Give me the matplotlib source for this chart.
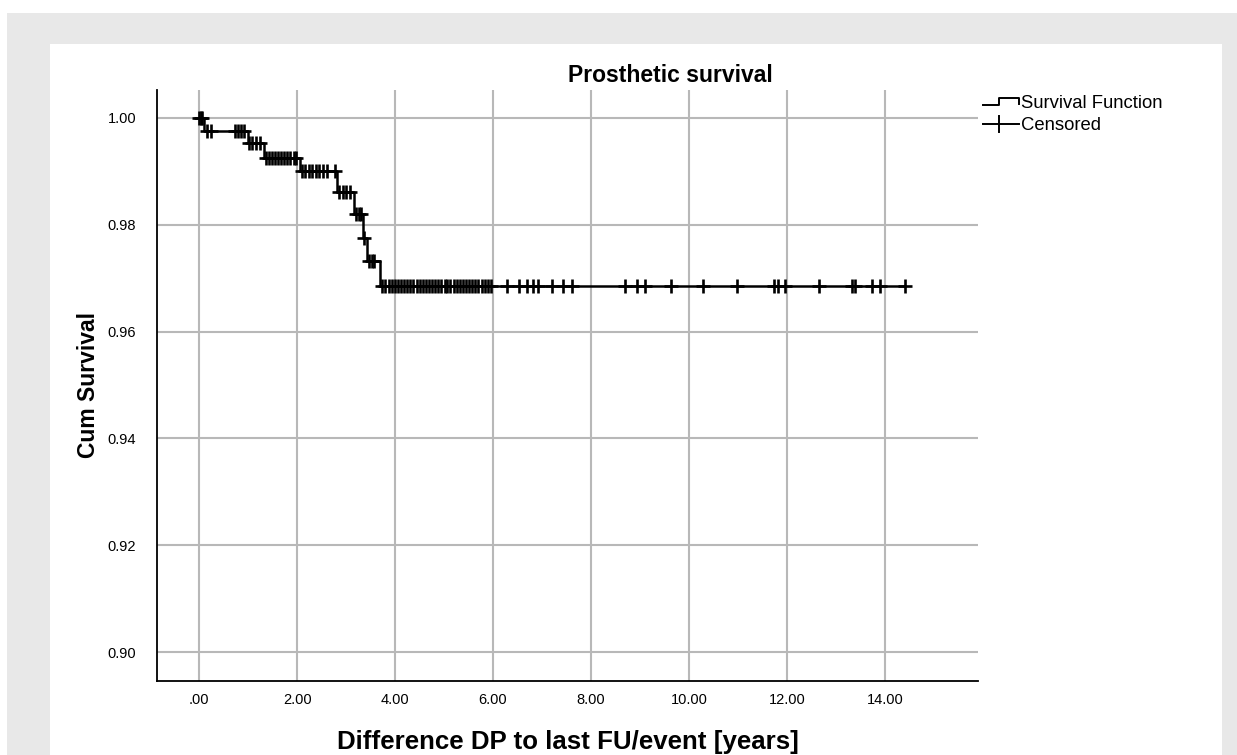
import numpy as np
import matplotlib.pyplot as plt
from matplotlib.lines import Line2D
from matplotlib.patches import Rectangle

plt.rcParams['font.family'] = ['Liberation Sans', 'DejaVu Sans']

# event times (years) and cumulative survival after each event
event_times = [0.10, 1.00, 1.33, 2.06, 2.82, 3.16, 3.34, 3.42, 3.69]
event_surv = [0.9976, 0.9953, 0.9926, 0.9900, 0.9861, 0.9820, 0.9775, 0.9732, 0.9685]

# censored observations
censored_times = [
    0.00, 0.03, 0.05,
    0.16, 0.24, 0.73, 0.80, 0.86, 0.92,
    1.02, 1.08, 1.16, 1.24,
    1.37, 1.43, 1.49, 1.55, 1.61, 1.67, 1.73, 1.79, 1.86, 1.93, 1.98,
    2.10, 2.17, 2.24, 2.31, 2.38, 2.45, 2.52, 2.62, 2.78,
    2.86, 2.93, 3.00, 3.08,
    3.20, 3.26, 3.30,
    3.36,
    3.46, 3.52, 3.58,
    3.74, 3.80, 3.87, 3.93, 3.99, 4.06, 4.12, 4.18, 4.25, 4.31, 4.37, 4.44,
    4.50, 4.56, 4.63, 4.69, 4.75, 4.82, 4.88, 4.94, 5.01, 5.07, 5.13, 5.20,
    5.26, 5.32, 5.39, 5.45, 5.51, 5.58, 5.64, 5.70, 5.77, 5.83, 5.89, 5.95,
    6.28, 6.52, 6.69, 6.82, 6.92, 7.20, 7.43, 7.61, 8.69, 8.93, 9.10, 9.63,
    10.29, 10.97, 11.73, 11.82, 11.96, 12.65, 13.33, 13.39, 13.73, 13.90, 14.41,
]
last_time = 14.41

x_ticks = [0, 2, 4, 6, 8, 10, 12, 14]
x_labels = ['.00', '2.00', '4.00', '6.00', '8.00', '10.00', '12.00', '14.00']
y_ticks = [0.90, 0.92, 0.94, 0.96, 0.98, 1.00]
y_labels = ['0.90', '0.92', '0.94', '0.96', '0.98', '1.00']

W, H = 1237, 755
fig = plt.figure(figsize=(W / 100, H / 100), dpi=100)
fig.set_facecolor('white')


def fx(px):
    return px / W


def fy(py):
    return 1 - py / H


# grey frame and white panel
fig.patches.append(Rectangle((fx(7), 0), 1 - fx(7), fy(13), transform=fig.transFigure,
                             facecolor='#e8e8e8', edgecolor='none', zorder=-2))
fig.patches.append(Rectangle((fx(50), 0), fx(1222) - fx(50), fy(44), transform=fig.transFigure,
                             facecolor='white', edgecolor='none', zorder=-1))

ax = fig.add_axes([fx(157), fy(681), fx(978) - fx(157), fy(90) - fy(681)])
ax.set_facecolor('none')
ax.set_zorder(2)

# survival step curve
step_x = [0] + event_times + [last_time]
step_y = [1.0] + event_surv + [event_surv[-1]]
ax.step(step_x, step_y, where='post', color='black', lw=1.8, zorder=3)

# censored marks on the curve
idx = np.searchsorted(event_times, censored_times, side='right')
levels = np.array([1.0] + event_surv)
cens_y = levels[idx]
ax.plot(censored_times, cens_y, linestyle='none', marker='+', color='black',
        markersize=10, markeredgewidth=1.9, zorder=4)

ax.set_xlim(-0.86, 15.9)
ax.set_ylim(0.89457, 1.00524)
ax.set_xticks(x_ticks)
ax.set_xticklabels(x_labels)
ax.set_yticks(y_ticks)
ax.set_yticklabels(y_labels)
ax.tick_params(length=0, labelsize=10.5, pad=9)
ax.tick_params(axis='y', pad=15)
ax.grid(color='#b8b8b8', lw=1.5, zorder=1)
ax.set_axisbelow(True)

for side in ['top', 'right']:
    ax.spines[side].set_visible(False)
for side in ['left', 'bottom']:
    ax.spines[side].set_color('black')
    ax.spines[side].set_linewidth(1.3)

# title and axis labels
fig.text(fx(670), fy(75), 'Prosthetic survival', ha='center', va='center',
         fontsize=16.5, fontweight='bold')
fig.text(fx(88), fy(385), 'Cum Survival', ha='center', va='center', rotation=90,
         fontsize=16.5, fontweight='bold')
fig.text(fx(568), fy(742), 'Difference DP to last FU/event [years]', ha='center', va='center',
         fontsize=18.6, fontweight='bold')

# legend
fig.lines.append(Line2D([fx(983), fx(999), fx(999), fx(1019), fx(1019)],
                        [fy(105), fy(105), fy(98), fy(98), fy(104)],
                        transform=fig.transFigure, color='black', lw=1.4))
fig.text(fx(1021), fy(103), 'Survival Function', ha='left', va='center', fontsize=13.3)
fig.lines.append(Line2D([fx(983), fx(1019)], [fy(124), fy(124)],
                        transform=fig.transFigure, color='black', lw=1.4))
fig.lines.append(Line2D([fx(999), fx(999)], [fy(116), fy(132)],
                        transform=fig.transFigure, color='black', lw=1.4))
fig.text(fx(1021), fy(126), 'Censored', ha='left', va='center', fontsize=13.3)

fig.savefig('out.png', dpi=100)
